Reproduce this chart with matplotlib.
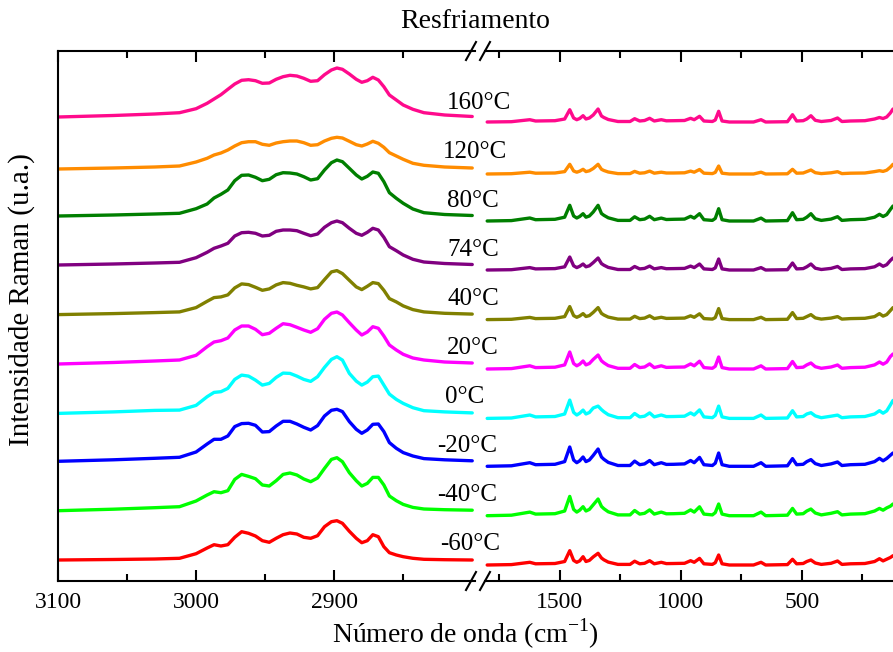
import matplotlib
matplotlib.use("Agg")
import matplotlib.pyplot as plt
from matplotlib.lines import Line2D

plt.rcParams["font.family"] = ["Liberation Serif", "DejaVu Serif"]
plt.rcParams["mathtext.fontset"] = "custom"
plt.rcParams["mathtext.rm"] = "Liberation Serif"

# =================================
# DATA
# =================================

temperatures = ["160°C", "120°C", "80°C", "74°C", "40°C",
                "20°C", "0°C", "-20°C", "-40°C", "-60°C"]
colors = ["#FF0A8C", "#FF8C00", "#007F00", "#800080", "#808000",
          "#FF00FF", "#00FFFF", "#0000FF", "#00FF00", "#FF0000"]

# vertical offset of each spectrum (a.u.)
offsets = [464, 412, 365, 316, 266.4, 217, 167.6, 119.7, 70.3, 21]
right_shift = -5

# C-H stretching region
wn_left = [3100, 3060, 3030, 3012, 3000, 2992, 2987, 2982, 2977, 2972,
           2967, 2962, 2957, 2952, 2947, 2942, 2937, 2932, 2927, 2922,
           2917, 2912, 2907, 2902, 2898, 2894, 2889, 2884, 2880, 2876,
           2872, 2868, 2864, 2860, 2855, 2850, 2843, 2835, 2820, 2800]

left_160 = [0, 1.5, 3, 4.3, 8.3, 13.7, 18, 22.3, 27.7, 33, 36.7, 37.3, 36.3, 33.7, 34, 37.7, 40.3, 41.7, 41, 38.7,
            35.7, 36.3, 42.3, 47, 49, 47.7, 43, 37.7, 34.7, 36.3, 39.7, 37, 30.3, 22, 17, 12, 7.7, 4.3, 2, 0.5]
left_120 = [0, 1, 2, 3, 7, 10.7, 14, 16, 19, 23, 26.3, 27.3, 27.3, 24.7, 23.7, 26, 27.3, 28, 28, 26.3,
            23.7, 24.3, 28, 30.7, 31.7, 31, 27.7, 24.3, 23, 25, 27.7, 25.7, 21.7, 16.3, 13, 9.7, 5.7, 3.7, 2, 1]
left_80 = [0, 1, 2, 2.7, 7.3, 12, 18, 21.7, 26, 35.3, 40.7, 41, 38.7, 35.3, 36.7, 41.3, 43.3, 43, 42, 39.3,
           36, 37.3, 46, 53.3, 56, 54.3, 47.7, 41, 37, 39.7, 44, 42.7, 34.3, 23.3, 17.7, 12.7, 7, 3.3, 1.5, 0.5]
left_74 = [0, 1, 2, 2.7, 7.3, 12.7, 16.7, 19, 21.7, 29, 32.3, 32.7, 31.7, 29, 29.7, 33.7, 35, 35, 34.3, 31.7,
           29.3, 31, 37.7, 42.3, 44, 42.3, 36.7, 31.7, 29.7, 32.7, 36.7, 35, 27.7, 18.3, 14.3, 10, 5.7, 3, 1.5, 0.5]
left_40 = [0, 1, 2, 2.7, 7, 13.3, 17, 17.7, 19.7, 26.7, 30.7, 30, 27.3, 24.3, 25.7, 29.7, 32, 31.3, 29.3, 27.7,
           25.7, 27, 35, 42.7, 44, 41, 34.3, 27.7, 25, 28.3, 32, 31, 24.3, 16, 12.7, 8.7, 5, 2.7, 1.3, 0.5]
left_20 = [0, 1.5, 3, 4, 8.7, 17.3, 22, 23.3, 26, 34, 38, 38, 34.7, 29.3, 30.7, 35.7, 40.3, 39.3, 36.7, 34,
           31.7, 35.3, 44.7, 50.7, 52, 49, 41.3, 34, 29, 32, 37.3, 35.7, 28, 19, 14, 9.7, 6, 4, 2, 1]
left_0 = [0, 1.5, 3, 3.3, 8, 16.7, 21, 21.7, 25, 34, 38.3, 37.3, 33.3, 28.3, 30, 36, 40.3, 40, 37.3, 34,
          32, 36.7, 46, 54, 56.7, 53.3, 40, 32.3, 28.3, 31.3, 36.7, 37.3, 28.3, 19.3, 14, 10, 5.7, 2.7, 1.5, 0.5]
left_m20 = [0, 1.5, 3, 4, 9.3, 17.3, 22, 22, 25.3, 34.7, 37.7, 38, 36, 29.3, 29.7, 35.3, 40, 40, 37.3, 34,
            31.3, 35.7, 45.3, 51, 52, 49.7, 39.7, 32, 28, 31.3, 37, 37.3, 29.7, 18.7, 13, 8.7, 5.3, 2.7, 1.5, 0.5]
left_m40 = [0, 1.5, 3, 4, 9.7, 15.7, 19, 18, 20, 31.3, 36.3, 34.3, 32, 25.7, 24.7, 30, 36.3, 37.7, 35.7, 31.7,
            29, 32.7, 42.3, 51.3, 53, 49, 38, 30, 24.7, 27.3, 33.3, 33.3, 25.7, 14.7, 10, 6.3, 3.3, 1.7, 1, 0.5]
left_m60 = [0, 0.5, 1, 1.7, 6.3, 12, 15.3, 14, 15.3, 22.7, 28.3, 26.7, 24, 19.3, 17.7, 21.7, 25.3, 27, 26, 22.7,
            21.7, 24.3, 33.3, 38.3, 39.3, 36.7, 28.7, 21.7, 17.3, 19.3, 25.3, 23.3, 13.3, 7.3, 5, 3.3, 1.7, 0.7, 0.3, 0]

# fingerprint region
wn_right = [1800, 1700, 1624, 1600, 1520, 1480, 1459, 1443, 1430, 1418,
            1404, 1392, 1378, 1362, 1342, 1328, 1318, 1300, 1260, 1210,
            1191, 1170, 1150, 1129, 1110, 1081, 1060, 1030, 985, 960,
            945, 923, 905, 870, 858, 844, 830, 800, 700, 669,
            650, 560, 539, 522, 495, 480, 463, 445, 420, 380,
            353, 335, 300, 240, 200, 180, 165, 150, 135, 124]

right_160 = [0, 0.3, 2.3, 1, 1.3, 3, 12.3, 4, 2.3, 3.5, 6.3, 3, 4, 7, 13, 6, 4.5, 2.5, 0.5, 0.5,
             3.3, 1, 1.5, 3.7, 1, 2.3, 1.2, 1.3, 1.5, 3.7, 2.3, 5.7, 1, 0.5, 2, 10.7, 1, 0, 0, 2.3,
             0, 0.3, 7.3, 1, 1.3, 3, 6.3, 1.7, 0.5, 1.5, 4, 0.5, 1, 1.3, 3, 4.5, 3.5, 5, 9, 13]
right_120 = [0, 0.3, 1.8, 0.8, 1, 2.4, 9.7, 3, 1.8, 2.8, 4.7, 2.4, 3.2, 5.5, 9.7, 4.7, 3.5, 2, 0.4, 0.4,
             2.6, 0.8, 1.2, 2.9, 0.8, 1.8, 1, 1, 1.2, 2.9, 1.8, 4.5, 0.8, 0.4, 1.6, 8, 0.8, 0, 0, 1.8,
             0, 0.2, 4.7, 0.8, 1, 2.4, 4, 1.3, 0.4, 1.2, 2.3, 0.4, 0.8, 1, 2.4, 3.3, 2.6, 3.8, 6.8, 9.7]
right_80 = [0, 0.4, 3, 1.3, 1.7, 3.8, 15.7, 5, 3, 4.5, 7.3, 3.8, 5, 9, 15.7, 7.5, 5.7, 3.2, 0.6, 0.6,
            4.2, 1.3, 1.9, 4.7, 1.3, 2.9, 1.5, 1.7, 1.9, 4.7, 2.9, 7.3, 1.3, 0.6, 2.6, 12.3, 1.3, 0, 0, 2.9,
            0, 0.4, 8.3, 1.3, 1.7, 3.8, 7.3, 2.2, 0.6, 1.9, 4.3, 0.6, 1.3, 1.7, 3.8, 6.7, 4.5, 6.4, 11.5, 15]
right_74 = [0, 0.3, 2.4, 1.1, 1.4, 3.2, 13, 4.2, 2.4, 3.7, 6, 3.2, 4.2, 7.4, 12, 6.4, 4.8, 2.6, 0.5, 0.5,
            3.5, 1.1, 1.6, 3.9, 1.1, 2.4, 1.3, 1.4, 1.6, 3.9, 2.4, 6, 1.1, 0.5, 2.1, 11, 1.1, 0, 0, 2.4,
            0, 0.3, 7, 1.1, 1.4, 3.2, 6, 1.8, 0.5, 1.6, 3.5, 0.5, 1.1, 1.4, 3.2, 6, 3.7, 5.3, 9.5, 12]
right_40 = [0, 0.3, 2.2, 1, 1.3, 3, 13, 4, 2.3, 3.6, 6, 3.1, 4, 7.2, 12, 6.2, 4.6, 2.5, 0.5, 0.5,
            3.3, 1, 1.5, 3.8, 1, 2.3, 1.2, 1.3, 1.5, 3.8, 2.3, 5.8, 1, 0.5, 2, 11, 1, 0, 0, 2.3,
            0, 0.3, 7, 1, 1.3, 3, 5, 1.7, 0.5, 1.5, 3, 0.5, 1, 1.3, 3, 6, 3.5, 5, 9, 12]
right_20 = [0, 0.4, 3.2, 1.4, 1.8, 4.1, 17, 5.5, 3.2, 4.8, 8, 4.1, 5.5, 9.6, 14, 8.2, 6.2, 3.4, 0.7, 0.7,
            4.5, 1.4, 2, 5.1, 1.4, 3.2, 1.6, 1.8, 2, 5.1, 3.2, 7.8, 1.4, 0.7, 2.7, 12, 1.4, 0, 0, 3.2,
            0, 0.4, 7.5, 1.4, 1.8, 4.1, 6, 2.3, 0.7, 2, 4, 0.7, 1.4, 1.8, 4.1, 7, 4.8, 6.9, 12.4, 15]
right_0 = [0, 0.4, 3.4, 1.5, 1.9, 4.4, 18.3, 6, 3.4, 5.2, 8.3, 4.4, 5.9, 10.4, 12.3, 8.8, 6.7, 3.7, 0.7, 0.7,
           4.9, 1.5, 2.2, 5.5, 1.5, 3.4, 1.8, 1.9, 2.2, 5.5, 3.4, 8.5, 1.5, 0.7, 3, 12.3, 1.5, 0, 0, 3.4,
           0, 0.4, 7.7, 1.5, 1.9, 4.4, 5.7, 2.5, 0.7, 2.2, 3.3, 0.7, 1.5, 1.9, 4.4, 7.7, 5.2, 7.5, 13.4, 18]
right_m20 = [0, 0.5, 3.6, 1.6, 2, 4.7, 19.3, 6.3, 3.6, 5.5, 9.3, 4.7, 6.3, 10.9, 17.3, 9.3, 7, 3.9, 0.8, 0.8,
             5.2, 1.6, 2.4, 5.8, 1.6, 3.6, 1.9, 2, 2.4, 5.8, 3.6, 8.9, 1.6, 0.8, 3.1, 13.3, 1.6, 0, 0, 3.6,
             0, 0.5, 7.7, 1.6, 2, 4.7, 6.7, 2.7, 0.8, 2.4, 4.3, 0.8, 1.6, 2, 4.7, 8, 5.5, 7.8, 11, 13.3]
right_m40 = [0, 0.5, 3.6, 1.6, 2, 4.7, 19.3, 6.3, 3.6, 5.5, 9, 4.7, 6.3, 10.9, 16.7, 9.3, 7, 3.9, 0.8, 0.8,
             5.2, 1.6, 2.4, 5.8, 1.6, 3.6, 1.9, 2, 2.4, 5.8, 3.6, 8.9, 1.6, 0.8, 3.1, 11.7, 1.6, 0, 0, 3.6,
             0, 0.5, 7.3, 1.6, 2, 4.7, 6.7, 2.7, 0.8, 2.4, 4, 0.8, 1.6, 2, 4.7, 7.3, 5.5, 7.8, 9.5, 11.7]
right_m60 = [0, 0.4, 2.7, 1.2, 1.5, 3.5, 14.3, 4.6, 2.7, 4.1, 8.3, 3.5, 4.6, 8.1, 11.7, 7, 5.2, 2.9, 0.6, 0.6,
             3.8, 1.2, 1.7, 4.3, 1.2, 2.7, 1.4, 1.5, 1.7, 4.3, 2.7, 6.6, 1.2, 0.6, 2.3, 10, 1.2, 0, 0, 2.7,
             0, 0.4, 5.7, 1.2, 1.5, 3.5, 5, 2, 0.6, 1.7, 4, 0.6, 1.2, 1.5, 3.5, 6.3, 4.1, 5.8, 7.5, 9.3]

left_spectra = [left_160, left_120, left_80, left_74, left_40,
                left_20, left_0, left_m20, left_m40, left_m60]
right_spectra = [right_160, right_120, right_80, right_74, right_40,
                 right_20, right_0, right_m20, right_m40, right_m60]

# =================================
# FIGURE LAYOUT (pixel based)
# =================================

W, H = 893, 652
fig = plt.figure(figsize=(W / 100, H / 100), dpi=100)


def fx(px):
    return px / W


def fy(py):
    return 1 - py / H


ax_top, ax_bot = 51, 581
ax1 = fig.add_axes([fx(58), fy(ax_bot), fx(475 - 58), (ax_bot - ax_top) / H])
ax2 = fig.add_axes([fx(485), fy(ax_bot), fx(893 - 485), (ax_bot - ax_top) / H])

for i in range(len(temperatures)):
    y_left = [v + offsets[i] for v in left_spectra[i]]
    y_right = [v + offsets[i] + right_shift for v in right_spectra[i]]
    ax1.plot(wn_left, y_left, color=colors[i], lw=2.4,
             solid_joinstyle="round", solid_capstyle="round")
    ax2.plot(wn_right, y_right, color=colors[i], lw=2.4,
             solid_joinstyle="round", solid_capstyle="round")

ax1.set_xlim(3100, 2798)
ax2.set_xlim(1809, 124)
for ax in (ax1, ax2):
    ax.set_ylim(0, 530)
    ax.set_yticks([])
    for s in ax.spines.values():
        s.set_linewidth(1.5)
    ax.tick_params(axis="x", which="both", direction="in", top=True,
                   labelsize=17, width=1.5, pad=8)
    ax.tick_params(axis="x", which="major", length=8)
    ax.tick_params(axis="x", which="minor", length=5)

ax1.spines["right"].set_visible(False)
ax2.spines["left"].set_visible(False)
ax2.spines["right"].set_visible(False)

ax1.set_xticks([3100, 3000, 2900])
ax1.set_xticks([3050, 2950, 2850], minor=True)
ax2.set_xticks([1500, 1000, 500])
ax2.set_xticks([1750, 1250, 750, 250], minor=True)

# break marks
for yc in (ax_top, ax_bot):
    for x0 in (466, 480):
        fig.add_artist(Line2D([fx(x0), fx(x0 + 10)], [fy(yc + 9), fy(yc - 9)],
                              color="black", lw=1.5))

# temperature labels
label_y = [103, 152, 201, 250, 299, 348, 397, 446, 495, 544]
label_x = [447, 443, 447, 447, 447, 447, 445, 437, 437, 440]
for i, t in enumerate(temperatures):
    fig.text(fx(label_x[i]), fy(label_y[i]), t, fontsize=18, ha="left", va="center")

fig.text(fx(475), fy(22), "Resfriamento", fontsize=20, ha="center", va="center")
fig.text(fx(465), fy(634), r"Número de onda (cm$^{\mathregular{-1}}$)",
         fontsize=20, ha="center", va="center")
fig.text(fx(22), fy(300), "Intensidade Raman (u.a.)", fontsize=21,
         rotation=90, ha="center", va="center")

plt.savefig("out.png", dpi=100)
print("Chart saved to out.png")
